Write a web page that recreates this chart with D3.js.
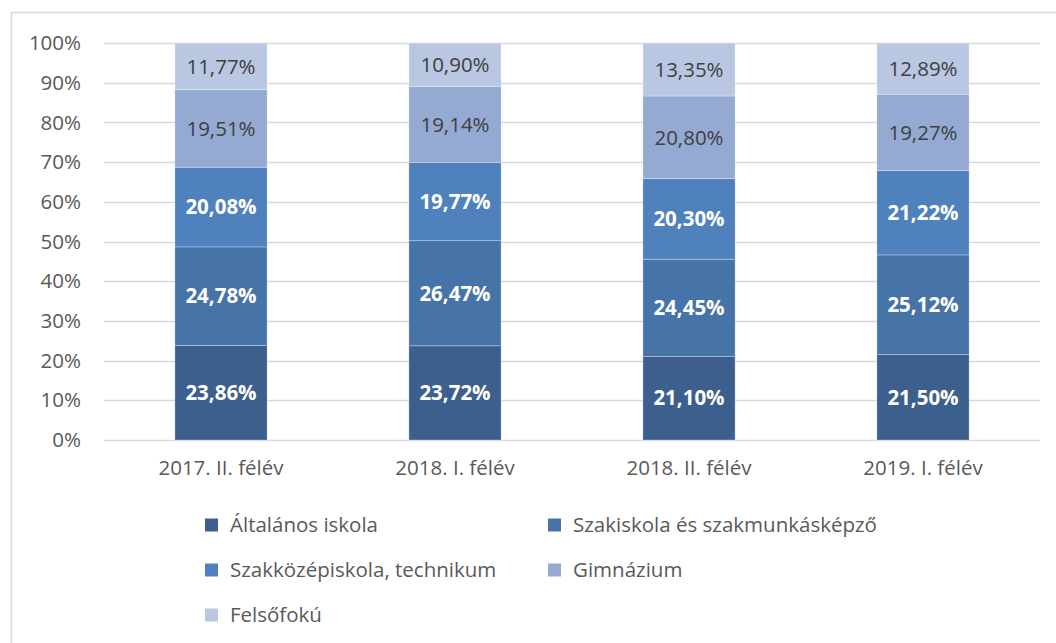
<!DOCTYPE html>
<html>
<head>
<meta charset="utf-8">
<script src="https://cdn.jsdelivr.net/npm/d3@7"></script>
<style>
  body { margin: 0; background: #fff; }
  svg text { font-family: "Open Sans", "Noto Sans", sans-serif; }
</style>
</head>
<body>
<svg id="chart" width="1056" height="643"></svg>
<script>
// chart data
var periods = ['2017. II. félév', '2018. I. félév', '2018. II. félév', '2019. I. félév'];
var seriesNames = ['Általános iskola', 'Szakiskola és szakmunkásképző', 'Szakközépiskola, technikum', 'Gimnázium', 'Felsőfokú'];
var altalanos = [23.86, 23.72, 21.10, 21.50];
var szakiskola = [24.78, 26.47, 24.45, 25.12];
var szakkozep = [20.08, 19.77, 20.30, 21.22];
var gimnazium = [19.51, 19.14, 20.80, 19.27];
var felsofoku = [11.77, 10.90, 13.35, 12.89];
var yTicks = [0, 10, 20, 30, 40, 50, 60, 70, 80, 90, 100];

var colors = ['#3c5f8e', '#4673a8', '#4f81bd', '#94aad2', '#bac7e2'];
var labelColors = ['#fff', '#fff', '#fff', '#404040', '#404040'];
var labelWeights = ['bold', 'bold', 'bold', 'normal', 'normal'];

var svg = d3.select('#chart');
var margin = {l: 104, r: 16, t: 43, b: 203};
var width = 1056 - margin.l - margin.r;
var height = 643 - margin.t - margin.b;
var fontSize = 20.5;

// outer frame
svg.append('rect')
    .attr('x', 11.5).attr('y', 12.5)
    .attr('width', 1060).attr('height', 660)
    .attr('fill', 'none')
    .attr('stroke', '#d9d9d9')
    .attr('stroke-width', 1.5);

var g = svg.append('g')
    .attr('transform', 'translate(' + margin.l + ',' + margin.t + ')');

var x = d3.scaleBand()
    .domain(periods)
    .range([0, width])
    .paddingInner(0.606)
    .paddingOuter(0.303);

var y = d3.scaleLinear()
    .domain([0, 100])
    .range([height, 0]);

// gridlines
g.append('g')
    .selectAll('line')
    .data(yTicks)
    .enter().append('line')
    .attr('x1', 0)
    .attr('x2', width)
    .attr('y1', function(d) { return Math.round(y(d)) + 0.5; })
    .attr('y2', function(d) { return Math.round(y(d)) + 0.5; })
    .attr('stroke', '#d9d9d9')
    .attr('stroke-width', 1.5);

// y tick labels
g.append('g')
    .selectAll('text')
    .data(yTicks)
    .enter().append('text')
    .attr('x', -23)
    .attr('y', function(d) { return y(d); })
    .attr('dy', '0.35em')
    .attr('text-anchor', 'end')
    .attr('font-size', fontSize)
    .attr('fill', '#595959')
    .text(function(d) { return d + '%'; });

// x tick labels
g.append('g')
    .selectAll('text')
    .data(periods)
    .enter().append('text')
    .attr('x', function(d) { return x(d) + x.bandwidth() / 2; })
    .attr('y', height + 35)
    .attr('text-anchor', 'middle')
    .attr('font-size', fontSize)
    .attr('fill', '#595959')
    .text(function(d) { return d; });

// stacked data
var table = periods.map(function(p, i) {
    return {
        period: p,
        s0: altalanos[i], s1: szakiskola[i], s2: szakkozep[i], s3: gimnazium[i], s4: felsofoku[i]
    };
});
var keys = ['s0', 's1', 's2', 's3', 's4'];
var stack = d3.stack().keys(keys);
var layers = stack(table);

var layerG = g.selectAll('.layer')
    .data(layers)
    .enter().append('g')
    .attr('class', 'layer');

layerG.selectAll('rect')
    .data(function(d) { return d; })
    .enter().append('rect')
    .attr('x', function(d) { return x(d.data.period); })
    .attr('y', function(d) { return y(d[1]); })
    .attr('width', x.bandwidth())
    .attr('height', function(d) { return y(d[0]) - y(d[1]); })
    .attr('fill', function(d, i, nodes) { return colors[d3.select(nodes[i].parentNode).datum().index]; })
    .attr('stroke', '#fff')
    .attr('stroke-width', 0.6)
    .attr('stroke-opacity', 0.5);

layerG.selectAll('text')
    .data(function(d) { return d.map(function(v) { v.idx = d.index; return v; }); })
    .enter().append('text')
    .attr('x', function(d) { return x(d.data.period) + x.bandwidth() / 2; })
    .attr('y', function(d) { return (y(d[0]) + y(d[1])) / 2; })
    .attr('dy', '0.36em')
    .attr('text-anchor', 'middle')
    .attr('font-size', fontSize)
    .attr('font-weight', function(d) { return labelWeights[d.idx]; })
    .attr('fill', function(d) { return labelColors[d.idx]; })
    .text(function(d) { return (d[1] - d[0]).toFixed(2).replace('.', ',') + '%'; });

// legend
var legendPos = [[205, 525], [548, 525], [205, 570], [548, 570], [205, 615]];
var legend = svg.append('g')
    .selectAll('g')
    .data(seriesNames)
    .enter().append('g')
    .attr('transform', function(d, i) { return 'translate(' + legendPos[i][0] + ',' + legendPos[i][1] + ')'; });

legend.append('rect')
    .attr('x', 0).attr('y', -6.5)
    .attr('width', 13).attr('height', 13)
    .attr('fill', function(d, i) { return colors[i]; });

legend.append('text')
    .attr('x', 25)
    .attr('y', 0)
    .attr('dy', '0.35em')
    .attr('font-size', fontSize)
    .attr('fill', '#595959')
    .text(function(d) { return d; });
</script>
</body>
</html>
